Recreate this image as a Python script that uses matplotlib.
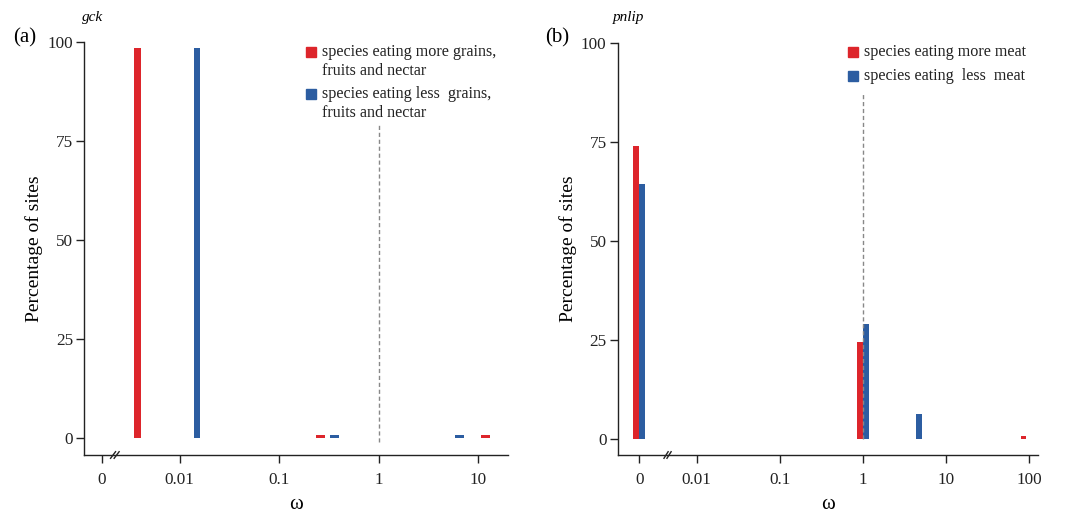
import numpy as np
import matplotlib
matplotlib.use('Agg')
import matplotlib.pyplot as plt

plt.rcParams['font.family'] = ['Liberation Serif', 'DejaVu Serif']

# panel (a) gck
a_red_omega = [0.0038, 0.26, 11.8]
a_red_pct = [98.4, 0.7, 0.7]
a_blue_omega = [0.015, 0.36, 6.5]
a_blue_pct = [98.4, 0.7, 0.7]
a_labels = ['species eating more grains,\nfruits and nectar',
            'species eating less  grains,\nfruits and nectar']

# panel (b) pnlip
b_red_omega = [0, 1, 93]
b_red_pct = [74.0, 24.6, 0.9]
b_blue_omega = [0, 1, 4.4]
b_blue_pct = [64.4, 29.1, 6.4]
b_labels = ['species eating more meat', 'species eating  less  meat']

a_ticks = ['0', '0.01', '0.1', '1', '10']
b_ticks = ['0', '0.01', '0.1', '1', '10', '100']

RED = '#DD252B'
BLUE = '#2C5DA1'
W, H = 1075, 514


def to_pos(omega, zero):
    # log10 axis with 0 put on a broken segment
    omega = np.asarray(omega, dtype=float)
    return np.where(omega == 0, zero, np.log10(np.where(omega == 0, 1, omega)))


def style_axes(ax, xlim, ylim, zero, ticklabels):
    ax.set_xlim(*xlim)
    ax.set_ylim(*ylim)
    ax.spines['top'].set_visible(False)
    ax.spines['right'].set_visible(False)
    ax.spines['left'].set_bounds(ylim[0], 100)
    for s in ['left', 'bottom']:
        ax.spines[s].set_linewidth(1.0)
        ax.spines[s].set_color('#222222')
    ax.set_yticks([0, 25, 50, 75, 100])
    ax.set_xticks([zero] + list(range(-2, -2 + len(ticklabels) - 1)))
    ax.set_xticklabels(ticklabels)
    ax.tick_params(direction='out', length=6, width=1.0, labelsize=12.3,
                   colors='#222222')
    ax.tick_params(axis='y', pad=2)
    ax.tick_params(axis='x', pad=6)
    ax.set_ylabel('Percentage of sites', fontsize=14, labelpad=3)
    ax.set_xlabel('ω', fontsize=15, labelpad=5)


def axes_box(x0, x1, ytop, ybot):
    return [x0 / W, 1 - ybot / H, (x1 - x0) / W, (ybot - ytop) / H]


def break_mark(ax, x):
    dx = 0.025
    for off in (-0.018, 0.018):
        ax.plot([x + off - dx, x + off + dx], [-0.008, 0.008],
                transform=ax.get_xaxis_transform(), color='#222222',
                lw=1.0, clip_on=False)


def legend(ax, labels, colors, x, ys, line_gap):
    for lab, col, y in zip(labels, colors, ys):
        ax.plot([x], [y], marker='s', ms=7, color=col, ls='none',
                transform=ax.transAxes, clip_on=False)
        for i, line in enumerate(lab.split('\n')):
            ax.text(x + 0.026, y - i * line_gap, line, transform=ax.transAxes,
                    fontsize=11.6, va='center', ha='left', color='#222222')


fig = plt.figure(figsize=(W / 100, H / 100), dpi=100)

# ---- (a)
ax1 = fig.add_axes(axes_box(84, 508, 42, 455))
z1 = -2.78
ax1.bar(to_pos(a_red_omega, z1), a_red_pct, width=[0.065, 0.09, 0.09], color=RED)
ax1.bar(to_pos(a_blue_omega, z1), a_blue_pct, width=[0.065, 0.09, 0.09], color=BLUE)
ax1.plot([0, 0], [-0.9, 79.5], ls=(0, (3, 2)), color='#888888', lw=1.0)
style_axes(ax1, (-2.96, 1.30), (-4.3, 100), z1, a_ticks)
break_mark(ax1, -2.65)
legend(ax1, a_labels, [RED, BLUE], 0.535, [0.9765, 0.874], 0.047)
fig.text(82 / W, 1 - 17 / H, 'gck', style='italic', fontsize=11, va='center')
fig.text(13 / W, 1 - 38 / H, '(a)', fontsize=15, va='center')

# ---- (b)
ax2 = fig.add_axes(axes_box(617.7, 1037.7, 42.7, 455))
z2 = -2.69
bw = 0.07
ax2.bar(to_pos(b_red_omega, z2) - bw / 2, b_red_pct, width=bw, color=RED)
ax2.bar(to_pos(b_blue_omega, z2) + bw / 2, b_blue_pct, width=bw, color=BLUE)
ax2.plot([0, 0], [0, 87.4], ls=(0, (3, 2)), color='#888888', lw=1.0)
style_axes(ax2, (-2.95, 2.105), (-3.96, 100), z2, b_ticks)
break_mark(ax2, -2.35)
legend(ax2, b_labels, [RED, BLUE], 0.560, [0.9767, 0.919], 0.047)
fig.text(613 / W, 1 - 18 / H, 'pnlip', style='italic', fontsize=11, va='center')
fig.text(545 / W, 1 - 38 / H, '(b)', fontsize=15, va='center')

fig.savefig('out.png', dpi=100)
